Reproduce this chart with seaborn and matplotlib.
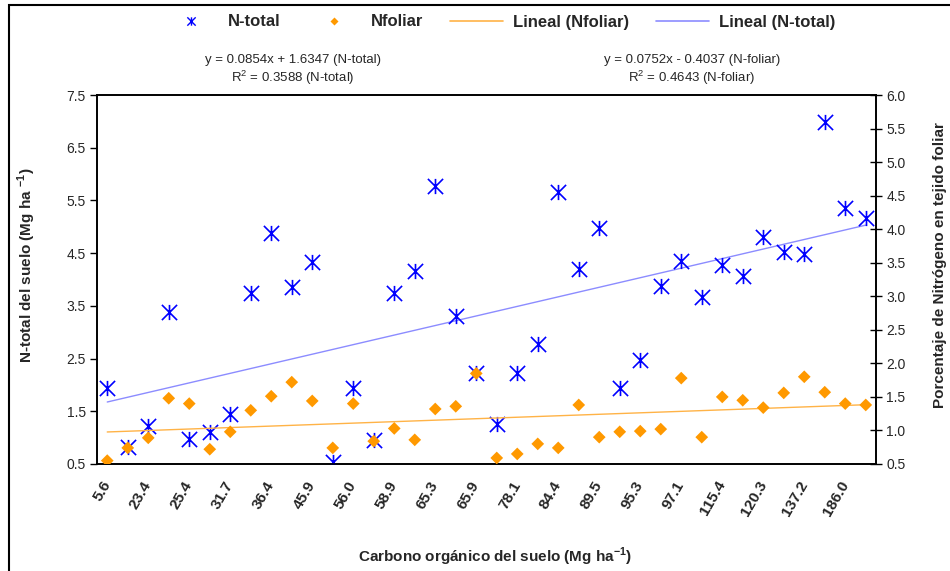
import numpy as np
import matplotlib
matplotlib.use("Agg")
import matplotlib.pyplot as plt
from matplotlib.path import Path
from matplotlib.lines import Line2D
from matplotlib.patches import Rectangle
import seaborn as sns

# Soil organic carbon classes (only every other class is labelled on the axis)
carbon_labels = ["5.6", "23.4", "25.4", "31.7", "36.4", "45.9", "56.0", "58.9",
                 "65.3", "65.9", "78.1", "84.4", "89.5", "95.3", "97.1", "115.4",
                 "120.3", "137.2", "186.0"]

# Total soil nitrogen (Mg ha-1), left axis
n_total = [1.94, 0.82, 1.22, 3.38, 0.97, 1.10, 1.45, 3.74, 4.88, 3.86,
           4.33, 0.54, 1.94, 0.96, 3.74, 4.16, 5.78, 3.31, 2.23, 1.26,
           2.22, 2.78, 5.66, 4.20, 4.98, 1.94, 2.47, 3.88, 4.35, 3.67,
           4.28, 4.07, 4.81, 4.52, 4.48, 6.99, 5.36, 5.17]

# Foliar nitrogen (%), right axis
n_foliar = [0.55, 0.74, 0.89, 1.48, 1.40, 0.72, 0.98, 1.30, 1.51, 1.72,
            1.44, 0.74, 1.40, 0.84, 1.03, 0.86, 1.32, 1.36, 1.85, 0.59,
            0.65, 0.80, 0.74, 1.38, 0.90, 0.98, 0.99, 1.02, 1.78, 0.90,
            1.50, 1.45, 1.34, 1.56, 1.80, 1.57, 1.40, 1.38]

eq_ntotal = ["y = 0.0854x + 1.6347 (N-total)", "R$^2$ = 0.3588 (N-total)"]
eq_nfoliar = ["y = 0.0752x - 0.4037 (N-foliar)", "R$^2$ = 0.4643 (N-foliar)"]

BLUE = "#0000FF"
ORANGE = "#FF9900"
BLUE_FIT = "#8C8CFF"
ORANGE_FIT = "#FFB347"

sns.set_theme(style="white")
plt.rcParams["font.family"] = ["Liberation Sans", "DejaVu Sans"]
plt.rcParams["mathtext.fontset"] = "custom"
plt.rcParams["mathtext.rm"] = "Liberation Sans"
plt.rcParams["mathtext.bf"] = "Liberation Sans:bold"

# Asterisk marker: vertical bar plus an X
star = Path([(0, -1), (0, 1), (-1, -1), (1, 1), (-1, 1), (1, -1)],
            [Path.MOVETO, Path.LINETO, Path.MOVETO, Path.LINETO, Path.MOVETO, Path.LINETO])

idx = np.arange(len(n_total))

fig = plt.figure(figsize=(9.5, 5.71), dpi=100)
ax = fig.add_axes([0.1021, 0.1874, 0.8200, 0.6462])
ax2 = ax.twinx()

sns.regplot(x=idx, y=np.array(n_total), ax=ax, scatter=False, ci=None, truncate=True,
            line_kws=dict(color=BLUE_FIT, lw=1.0, zorder=2))
sns.scatterplot(x=idx, y=n_total, ax=ax, marker=star, s=120, color=BLUE,
                edgecolor=BLUE, linewidth=1.2, zorder=3, legend=False)

sns.regplot(x=idx, y=np.array(n_foliar), ax=ax2, scatter=False, ci=None, truncate=True,
            line_kws=dict(color=ORANGE_FIT, lw=1.0, zorder=2))
sns.scatterplot(x=idx, y=n_foliar, ax=ax2, marker="D", s=42, color=ORANGE,
                edgecolor="none", zorder=3, legend=False)

# Axes limits and ticks
ax.set_xlim(-0.5, len(idx) - 0.5)
ax.set_ylim(0.5, 7.5)
ax2.set_ylim(0.5, 6.0)
ax.set_yticks(np.arange(0.5, 7.51, 1.0))
ax.set_yticklabels([f"{v:.1f}" for v in np.arange(0.5, 7.51, 1.0)], fontsize=10)
ax2.set_yticks(np.arange(0.5, 6.01, 0.5))
ax2.set_yticklabels([f"{v:.1f}" for v in np.arange(0.5, 6.01, 0.5)], fontsize=10)

ax.set_xticks(np.arange(-0.5, len(idx), 1.0))
ax.set_xticklabels([])
ax.set_xticks(idx[::2], minor=True)
ax.set_xticklabels(carbon_labels, minor=True, rotation=60, ha="right", va="center",
                   rotation_mode="anchor", fontweight="bold", fontsize=11)
ax.tick_params(axis="x", which="major", direction="inout", length=8, width=1, color="black")
ax.tick_params(axis="x", which="minor", length=0, pad=13)
ax.tick_params(axis="y", which="major", direction="out", length=5, width=1, color="black", pad=3)
ax2.tick_params(axis="y", which="major", direction="inout", length=9, width=1, color="black", pad=3)
for a in (ax, ax2):
    a.set_xlabel("")
    a.set_ylabel("")
    for s in a.spines.values():
        s.set_color("black")
        s.set_linewidth(1.2)
    a.grid(False)

# Axis titles
fig.text(27 / 950, 1 - 265 / 571, "N-total del suelo (Mg ha $^{\\mathbf{-1}}$)", rotation=90,
         ha="center", va="center", fontsize=11, fontweight="bold")
fig.text(940 / 950, 1 - 265 / 571, "Porcentaje de Nitrógeno en tejido foliar", rotation=90,
         ha="center", va="center", fontsize=11, fontweight="bold")
fig.text(495 / 950, 1 - 557 / 571, "Carbono orgánico del suelo (Mg ha$^{\\mathbf{-1}}$)",
         ha="center", va="center", fontsize=11, fontweight="bold")

# Trend-line equations
for (eq, r2), xc in ((eq_ntotal, 293), (eq_nfoliar, 692)):
    fig.text(xc / 950, 1 - 60 / 571, eq, ha="center", va="center", fontsize=9.5)
    fig.text(xc / 950, 1 - 78 / 571, r2, ha="center", va="center", fontsize=9.5)

# Legend
handles = [
    Line2D([], [], ls="none", marker=star, ms=6, mec=BLUE, mew=1.0),
    Line2D([], [], ls="none", marker="D", ms=4.5, color=ORANGE, mec="none"),
    Line2D([], [], color=ORANGE_FIT, lw=1.2),
    Line2D([], [], color=BLUE_FIT, lw=1.2),
]
fig.legend(handles, ["N-total", "Nfoliar", "Lineal (Nfoliar)", "Lineal (N-total)"],
           loc="center", bbox_to_anchor=(500 / 950, 1 - 22 / 571), ncol=4, frameon=False,
           prop=dict(weight="bold", size=12), handlelength=3.2, columnspacing=1.6,
           handletextpad=0.6)

# Outer chart frame
fig.patches.append(Rectangle((9 / 950, -0.1), 1.2, (1 - 5 / 571) + 0.1,
                             transform=fig.transFigure, fill=False,
                             edgecolor="black", lw=1.5))

fig.savefig("out.png", dpi=100, facecolor="white")
